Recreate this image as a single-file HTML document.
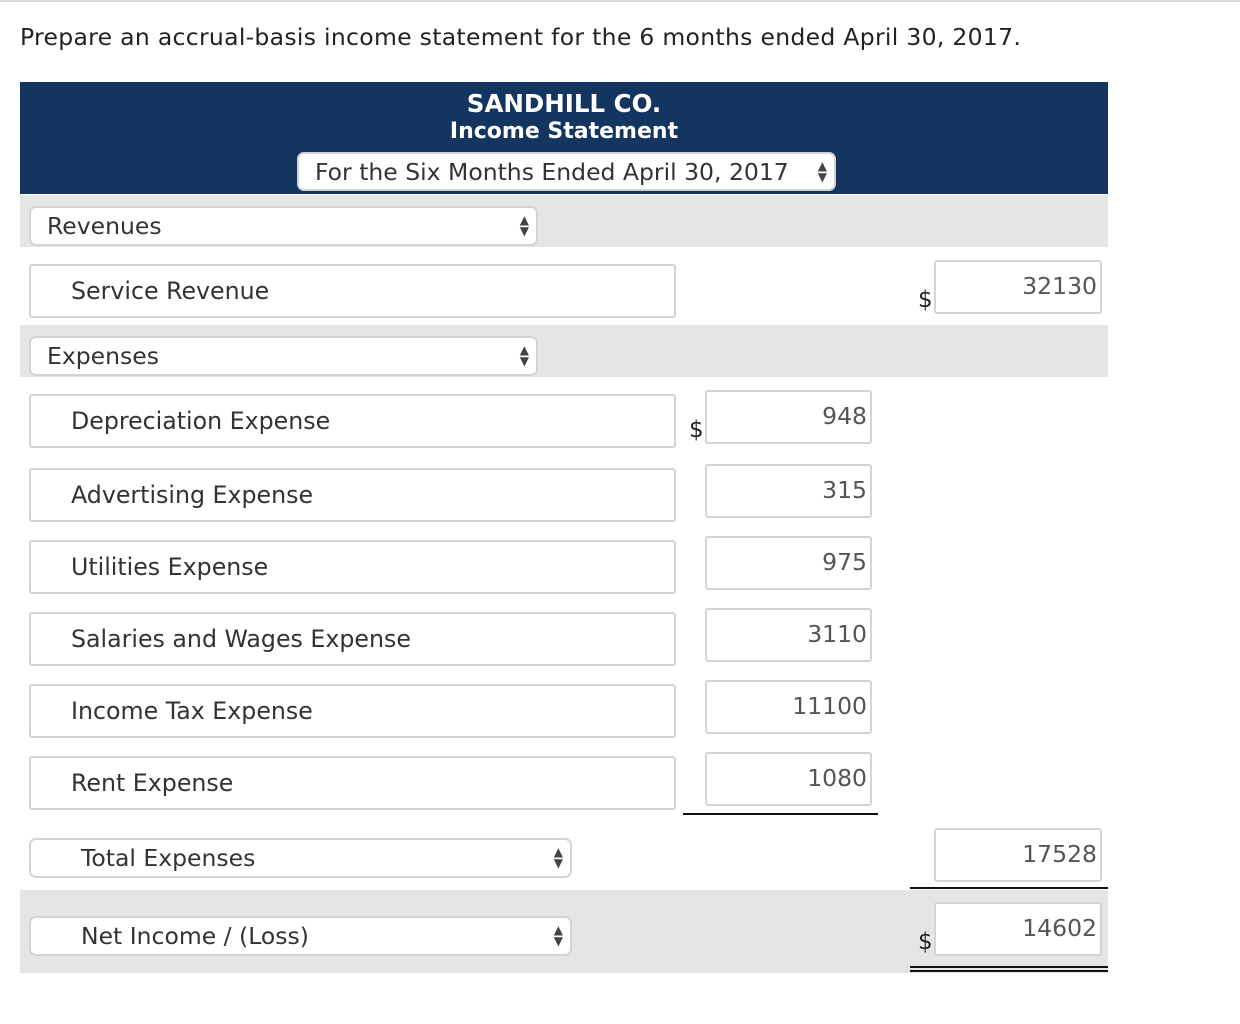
<!DOCTYPE html>
<html><head><meta charset="utf-8">
<style>
*{box-sizing:border-box;margin:0;padding:0}
body{width:1240px;height:1024px;background:#fff;position:relative;overflow:hidden;font-family:"DejaVu Sans","Liberation Sans",sans-serif;color:#333}
.abs{position:absolute}
.topline{left:0;top:0;width:1240px;height:2px;background:#d5d9e0}
.title{left:20px;top:23px;font-size:23.5px;color:#222;white-space:nowrap;letter-spacing:0.3px}
.hdr{left:20px;top:82px;width:1088px;height:112px;background:#13355f}
.hdr .t{position:absolute;left:0;width:100%;text-align:center;color:#fff;font-weight:bold;font-size:22px}
.sel{position:absolute;background:#fff;border:2px solid #d4d4d4;border-radius:7px;font-size:23.5px;color:#333;padding-left:16px;display:flex;align-items:center;white-space:nowrap}
.sel .arr{position:absolute;right:7px;top:50%;transform:translateY(-50%);font-size:12px;line-height:11px;color:#444;text-align:center}
.box{position:absolute;background:#fff;border:2px solid #d4d4d4;border-radius:3px;font-size:23.7px;color:#333;padding-left:40px;display:flex;align-items:center;white-space:nowrap}
.inp{position:absolute;background:#fff;border:2px solid #d4d4d4;border-radius:3px;font-size:23.5px;color:#555;text-align:right;padding-right:3px;padding-top:12px;line-height:24px}
.band{position:absolute;left:20px;width:1088px;background:#e5e5e5}
.dol{position:absolute;font-size:23px;color:#222}
.line{position:absolute;height:2px;background:#111}
</style></head><body>
<div class="abs topline"></div>
<div class="abs title">Prepare an accrual-basis income statement for the 6 months ended April 30, 2017.</div>
<div class="abs hdr">
  <div class="t" style="top:7px;font-size:24.5px">SANDHILL CO.</div>
  <div class="t" style="top:37px">Income Statement</div>
  <div class="sel" style="left:277px;top:70px;width:539px;height:39px">For the Six Months Ended April 30, 2017<span class="arr">▲<br>▼</span></div>
</div>
<div class="band" style="top:195px;height:52px"></div>
<div class="sel" style="left:29px;top:206px;width:509px;height:40px">Revenues<span class="arr">▲<br>▼</span></div>
<div class="band" style="top:325px;height:52px"></div>
<div class="sel" style="left:29px;top:336px;width:509px;height:40px">Expenses<span class="arr">▲<br>▼</span></div>
<div class="band" style="top:890px;height:83px"></div>
<div class="sel" style="left:29px;top:838px;width:543px;height:40px;padding-left:50px">Total Expenses<span class="arr">▲<br>▼</span></div>
<div class="sel" style="left:29px;top:916px;width:543px;height:40px;padding-left:50px">Net Income / (Loss)<span class="arr">▲<br>▼</span></div>
<div id="root"></div>
<script>
const revenueLabels = ["Service Revenue"];
const revenueValues = [32130];
const expenseLabels = ["Depreciation Expense","Advertising Expense","Utilities Expense","Salaries and Wages Expense","Income Tax Expense","Rent Expense"];
const expenseValues = [948,315,975,3110,11100,1080];
const totalExpenses = [17528];
const netIncome = [14602];

const root = document.getElementById('root');
function mk(cls, style, text){
  const d=document.createElement('div');d.className=cls;d.setAttribute('style',style);
  if(text!==undefined)d.textContent=text;root.appendChild(d);return d;
}
revenueLabels.forEach((l,i)=>{
  const b=mk('box',`left:29px;top:${264+i*72}px;width:647px;height:54px`,l);
  
  
  const v=mk('inp',`left:934px;top:${260+i*72}px;width:168px;height:54px`,String(revenueValues[i]));
  
  
});
const d1=mk('dol','left:918px;top:287px','$');


const tops=[394,468,540,612,684,756];
expenseLabels.forEach((l,i)=>{
  const t=tops[i]!==undefined?tops[i]:394+i*72;
  const b=mk('box',`left:29px;top:${t}px;width:647px;height:54px`,l);
  
  
  const v=mk('inp',`left:705px;top:${t-4}px;width:167px;height:54px`,String(expenseValues[i]));
  
  
});
const d2=mk('dol','left:689px;top:417px','$');


const l1=mk('line','left:683px;top:813px;width:195px');


const te=mk('inp','left:934px;top:828px;width:168px;height:54px',String(totalExpenses[0]));


const l2=mk('line','left:910px;top:887px;width:198px');


const ni=mk('inp','left:934px;top:902px;width:168px;height:54px',String(netIncome[0]));


const d3=mk('dol','left:918px;top:929px','$');


const l3=mk('line','left:910px;top:966px;width:198px');


const l4=mk('line','left:910px;top:970px;width:198px');


</script>
</body></html>
